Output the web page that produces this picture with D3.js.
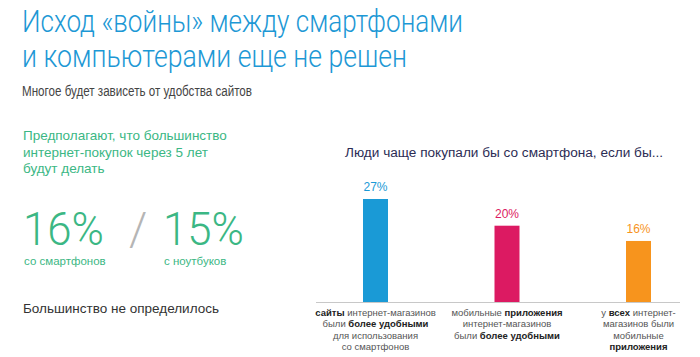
<!DOCTYPE html>
<html><head><meta charset="utf-8">
<script src="https://cdn.jsdelivr.net/npm/d3@7"></script>
<style>
html,body{margin:0;padding:0;background:#fff;}
svg{display:block;font-family:"Liberation Sans",Arial,sans-serif;}
</style></head>
<body><svg id="c" width="700" height="357"></svg>
<script>
const titleLines = ["Исход «войны» между смартфонами", "и компьютерами еще не решен"];
const subtitle = "Многое будет зависеть от удобства сайтов";
const introLines = ["Предполагают, что большинство", "интернет-покупок через 5 лет", "будут делать"];
const bigValues = ["16%", "15%"];
const bigLabels = ["со смартфонов", "с ноутбуков"];
const undecided = "Большинство не определилось";
const chartTitle = "Люди чаще покупали бы со смартфона,  если бы...";
const categories = ["sites", "apps", "all"];
const values = [27, 20, 16];
const valueLabels = ["27%", "20%", "16%"];
const barColors = ["#1a9ad6", "#dc1a62", "#f7941d"];
const categoryLabels = [
  [[["сайты", true], [" интернет-магазинов", false]], [["были ", false], ["более удобными", true]], [["для использования", false]], [["со смартфонов", false]]],
  [[["мобильные ", false], ["приложения", true]], [["интернет-магазинов", false]], [["были ", false], ["более удобными", true]]],
  [[["у ", false], ["всех", true], [" интернет-", false]], [["магазинов были", false]], [["мобильные", false]], [["приложения", true]]]
];

const svg = d3.select("#c");
const blue = "#1d98d5", green = "#3bb784";

// Title
svg.append("g").selectAll("text").data(titleLines).join("text")
  .attr("x", 22).attr("y", (d,i) => 32 + i*35)
  .attr("font-family", "Roboto,sans-serif").attr("font-weight", 300)
  .attr("font-size", 31).attr("fill", blue)
  .attr("textLength", (d,i) => i===0 ? 441 : 385).attr("lengthAdjust", "spacingAndGlyphs")
  .text(d => d);

svg.append("text").attr("x", 22).attr("y", 96)
  .attr("font-family", "'Liberation Sans Narrow','Arial Narrow',sans-serif")
  .attr("font-size", 14).attr("fill", "#444")
  .attr("textLength", 230).attr("lengthAdjust", "spacingAndGlyphs").text(subtitle);

// Left panel
svg.append("g").selectAll("text").data(introLines).join("text")
  .attr("x", 23).attr("y", (d,i) => 140 + i*16.5)
  .attr("font-size", 13.5).attr("fill", green).text(d => d);

const bigX = [23, 163];
svg.append("g").selectAll("text").data(bigValues).join("text")
  .attr("x", (d,i) => bigX[i]).attr("y", 245)
  .attr("font-family", "Roboto,sans-serif").attr("font-weight", 300)
  .attr("font-size", 46).attr("fill", green)
  .attr("textLength", 81).attr("lengthAdjust", "spacingAndGlyphs").text(d => d);
svg.append("text").attr("x", 129).attr("y", 245).attr("font-size", 46)
  .attr("font-family", "Roboto,sans-serif").attr("font-weight", 300)
  .attr("fill", "#b5b5b5").text("/");
svg.append("g").selectAll("text").data(bigLabels).join("text")
  .attr("x", (d,i) => bigX[i] + 1).attr("y", 265)
  .attr("font-size", 11.5).attr("fill", green).text(d => d);

svg.append("text").attr("x", 23).attr("y", 313).attr("font-size", 13.5).attr("fill", "#333").text(undecided);

// Bar chart
svg.append("text").attr("x", 345).attr("y", 157).attr("font-size", 12.5).attr("fill", "#2c2c54")
  .attr("textLength", 318).attr("lengthAdjust", "spacingAndGlyphs").text(chartTitle);

const x = d3.scalePoint().domain(categories).range([375.5, 638.5]);
const y = d3.scaleLinear().domain([0, 27]).range([302, 199]);
const bw = 25;

svg.append("g").selectAll("rect").data(values).join("rect")
  .attr("x", (d,i) => x(categories[i]) - bw/2).attr("width", bw)
  .attr("y", d => y(d)).attr("height", d => y(0) - y(d))
  .attr("fill", (d,i) => barColors[i]);

svg.append("g").selectAll("text").data(values).join("text")
  .attr("x", (d,i) => x(categories[i])).attr("y", d => y(d) - 8)
  .attr("text-anchor", "middle").attr("font-size", 12).attr("fill", (d,i) => barColors[i])
  .text((d,i) => valueLabels[i]);

svg.append("line").attr("x1", 316).attr("x2", 680).attr("y1", y(0) + 0.5).attr("y2", y(0) + 0.5)
  .attr("stroke", "#c8c8c8").attr("stroke-width", 1);

const lg = svg.append("g");
categoryLabels.forEach((lines, ci) => {
  lines.forEach((segs, li) => {
    const t = lg.append("text").attr("x", x(categories[ci])).attr("y", 316 + li*11.4)
      .attr("text-anchor", "middle").attr("font-size", 9.5).attr("fill", "#555");
    segs.forEach(s => t.append("tspan").attr("font-weight", s[1] ? "bold" : "normal")
      .attr("fill", s[1] ? "#222" : "#555").text(s[0]));
  });
});
</script></body></html>
